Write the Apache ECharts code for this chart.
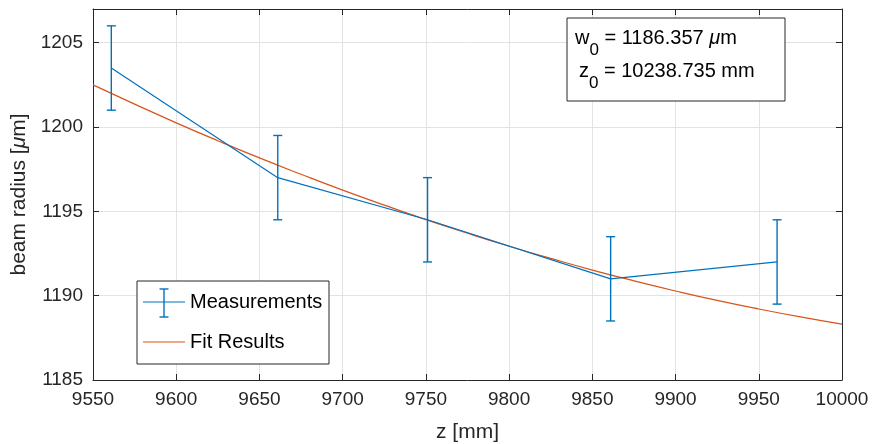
<!DOCTYPE html>
<html>
<head>
<meta charset="utf-8">
<script src="https://cdn.jsdelivr.net/npm/echarts@6/dist/echarts.min.js"></script>
<style>
  html, body { margin: 0; padding: 0; background: #fff; }
  #chart { width: 874px; height: 444px; }
</style>
</head>
<body>
<div id="chart"></div>
<script>
// Measured beam radius with error bars
const zPositions = [9561, 9661, 9751, 9861, 9961];
const beamRadius = [1203.5, 1197, 1194.5, 1191, 1192];
const radiusError = [2.5, 2.5, 2.5, 2.5, 2.5];

// Fitted Gaussian beam curve, sampled along z
const fitZ = [9550, 9575, 9600, 9625, 9650, 9675, 9700, 9725, 9750, 9775,
              9800, 9825, 9850, 9875, 9900, 9925, 9950, 9975, 10000];
const fitRadius = [1202.50, 1201.36, 1200.25, 1199.19, 1198.17, 1197.20, 1196.26,
                   1195.37, 1194.51, 1193.70, 1192.93, 1192.21, 1191.52, 1190.88,
                   1190.28, 1189.72, 1189.21, 1188.74, 1188.31];

const xTicks = { min: 9550, max: 10000, interval: 50 };
const yTicks = { min: 1185, max: 1207, interval: 5 };

const BLUE = '#0072BD';
const ORANGE = '#D95319';
const AXIS = '#262626';
const GRIDC = '#e3e3e3';
const FONT = 'Liberation Sans, Arial, Helvetica, sans-serif';
const TICK_FS = 19;
const NAME_FS = 21;
const BOX_FS = 20;

const chart = echarts.init(document.getElementById('chart'), null, { renderer: 'canvas' });

const measData = zPositions.map((z, i) => [z, beamRadius[i]]);
const errData = zPositions.map((z, i) => [z, beamRadius[i] - radiusError[i], beamRadius[i] + radiusError[i]]);
const fitData = fitZ.map((z, i) => [z, fitRadius[i]]);

function frameAxis(extra) {
  return Object.assign({
    type: 'value',
    axisLine: { show: true, onZero: false, lineStyle: { color: AXIS, width: 1 } },
    axisTick: { show: true, inside: true, length: 6, lineStyle: { color: AXIS } },
    axisLabel: { show: false },
    splitLine: { show: false },
  }, extra);
}

const option = {
  animation: false,
  backgroundColor: '#fff',
  grid: { left: 93, right: 32, top: 9, bottom: 64, containLabel: false, outerBoundsMode: 'none' },
  xAxis: [
    frameAxis({
      min: xTicks.min, max: xTicks.max, interval: xTicks.interval,
      name: 'z [mm]', nameLocation: 'middle', nameGap: 42,
      nameTextStyle: { color: '#262626', fontSize: NAME_FS, fontFamily: FONT },
      splitLine: { show: true, lineStyle: { color: GRIDC, width: 1 } },
      axisLabel: {
        show: true, color: '#262626', fontSize: TICK_FS, fontFamily: FONT, margin: 10,
        formatter: v => String(v)
      },
    }),
    frameAxis({ position: 'top', min: xTicks.min, max: xTicks.max, interval: xTicks.interval }),
  ],
  yAxis: [
    frameAxis({
      min: yTicks.min, max: yTicks.max, interval: yTicks.interval,
      name: 'beam radius [{i|μ}m]', nameLocation: 'middle', nameGap: 58,
      nameTextStyle: {
        color: '#262626', fontSize: NAME_FS, fontFamily: FONT,
        rich: { i: { fontStyle: 'italic', fontSize: NAME_FS, fontFamily: FONT, color: '#262626' } }
      },
      splitLine: { show: true, lineStyle: { color: GRIDC, width: 1 } },
      axisLabel: {
        show: true, color: '#262626', fontSize: TICK_FS, fontFamily: FONT, margin: 10,
        formatter: v => (v % 5 === 0 ? String(v) : '')
      },
    }),
    frameAxis({ position: 'right', min: yTicks.min, max: yTicks.max, interval: yTicks.interval }),
  ],
  series: [
    {
      name: 'Fit Results', type: 'line', data: fitData, smooth: true,
      showSymbol: false, symbol: 'none',
      lineStyle: { color: ORANGE, width: 1.2 }, z: 3,
    },
    {
      name: 'Measurements', type: 'line', data: measData,
      showSymbol: false, symbol: 'none',
      lineStyle: { color: BLUE, width: 1.2 }, z: 4,
    },
    {
      name: 'errors', type: 'custom', data: errData, z: 5,
      renderItem: function (params, api) {
        const x = api.value(0);
        const lo = api.coord([x, api.value(1)]);
        const hi = api.coord([x, api.value(2)]);
        const cap = 4.5;
        const style = { stroke: BLUE, lineWidth: 1.4 };
        return {
          type: 'group',
          children: [
            { type: 'line', shape: { x1: lo[0], y1: lo[1], x2: hi[0], y2: hi[1] }, style },
            { type: 'line', shape: { x1: lo[0] - cap, y1: lo[1], x2: lo[0] + cap, y2: lo[1] }, style },
            { type: 'line', shape: { x1: hi[0] - cap, y1: hi[1], x2: hi[0] + cap, y2: hi[1] }, style },
          ]
        };
      },
      encode: { x: 0, y: [1, 2] },
    },
  ],
  graphic: [
    // Fit parameter annotation box
    {
      type: 'rect', x: 567, y: 18, z: 10,
      shape: { width: 218, height: 83 },
      style: { fill: '#fff', stroke: '#262626', lineWidth: 1 },
    },
    {
      type: 'text', x: 575, y: 18, z: 11,
      style: {
        text: '{n|w}{s|0}{n| = 1186.357 }{i|μ}{n|m}',
        rich: {
          n: { fontSize: BOX_FS, fontFamily: FONT, fill: '#000' },
          s: { fontSize: 17, fontFamily: FONT, fill: '#000', padding: [24, 0, 0, 0] },
          i: { fontSize: BOX_FS, fontFamily: FONT, fill: '#000', fontStyle: 'italic' },
        }
      }
    },
    {
      type: 'text', x: 579, y: 51, z: 11,
      style: {
        text: '{n|z}{s|0}{n| = 10238.735 mm}',
        rich: {
          n: { fontSize: BOX_FS, fontFamily: FONT, fill: '#000' },
          s: { fontSize: 17, fontFamily: FONT, fill: '#000', padding: [24, 0, 0, 0] },
        }
      }
    },
    // Legend
    {
      type: 'rect', x: 137, y: 281, z: 10,
      shape: { width: 192, height: 83 },
      style: { fill: '#fff', stroke: '#262626', lineWidth: 1 },
    },
    { type: 'line', z: 11, shape: { x1: 143, y1: 302, x2: 185, y2: 302 }, style: { stroke: BLUE, lineWidth: 1.2 } },
    { type: 'line', z: 11, shape: { x1: 164, y1: 289, x2: 164, y2: 317 }, style: { stroke: BLUE, lineWidth: 1.4 } },
    { type: 'line', z: 11, shape: { x1: 159.5, y1: 289, x2: 168.5, y2: 289 }, style: { stroke: BLUE, lineWidth: 1.4 } },
    { type: 'line', z: 11, shape: { x1: 159.5, y1: 317, x2: 168.5, y2: 317 }, style: { stroke: BLUE, lineWidth: 1.4 } },
    { type: 'line', z: 11, shape: { x1: 143, y1: 342, x2: 185, y2: 342 }, style: { stroke: ORANGE, lineWidth: 1.2 } },
    { type: 'text', z: 11, x: 190, y: 302, style: { text: 'Measurements', fontSize: BOX_FS, fontFamily: FONT, fill: '#000', verticalAlign: 'middle' } },
    { type: 'text', z: 11, x: 190, y: 342, style: { text: 'Fit Results', fontSize: BOX_FS, fontFamily: FONT, fill: '#000', verticalAlign: 'middle' } },
  ],
};

chart.setOption(option);
</script>
</body>
</html>
